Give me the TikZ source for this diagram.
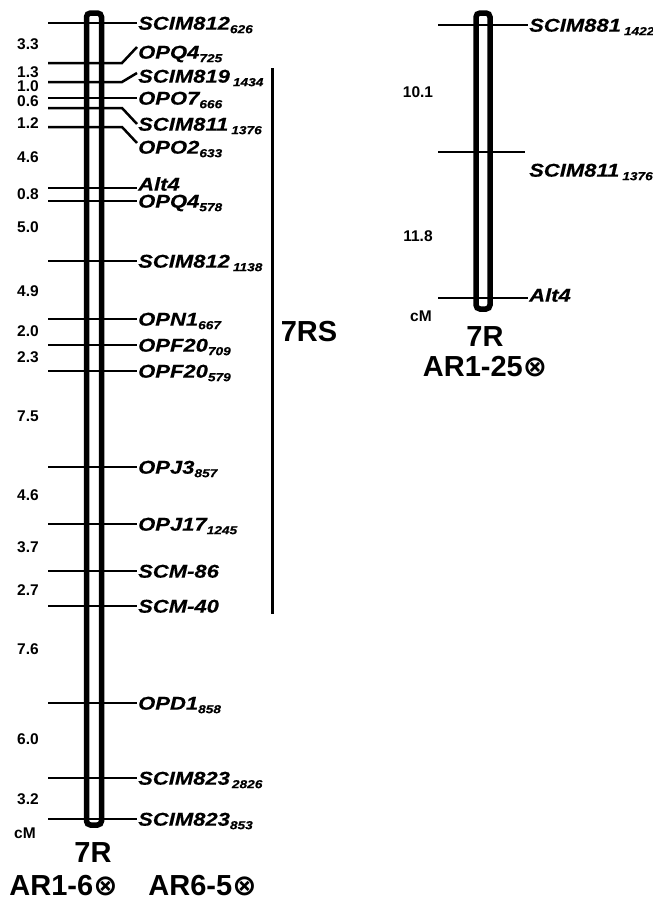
\documentclass[tikz,border=0pt]{standalone}
\usepackage{fontspec}
\setmainfont{Liberation Sans}
\newfontfamily\mkfont[FakeStretch=1.19, FakeBold=0.4]{Liberation Sans}
\newfontfamily\symf{DejaVu Sans}
\usepackage{tikz}

% markørnavn med lengde som senket indeks
\newcommand{\mkr}[2]{{\mkfont\bfseries\itshape\fontsize{18.5}{20}\selectfont #1\raisebox{-3.5pt}{\fontsize{11.5}{12}\selectfont #2}}}

\begin{document}
\begin{tikzpicture}[x=1pt, y=-1pt,
  lab/.style={anchor=west, inner xsep=1pt, inner ysep=0pt, text height=13.3pt, text depth=0pt},
  dist/.style={font=\bfseries\fontsize{15.5}{17}\selectfont, inner sep=0pt},
  big/.style={font=\bfseries\fontsize{29}{32}\selectfont, inner sep=0pt},
  tick/.style={line width=2.5pt},
  chrom/.style={line width=5.5pt, rounded corners=4pt}]
  \useasboundingbox (0,0) rectangle (653,902);
  % Kromosom AR1-6 / AR6-5
  \draw[chrom] (86.5,13) rectangle (101.5,825);
  \node[lab] (s1) at (137,23) {\mkr{SCIM812}{626}};
  \draw[tick] (48,23) coordinate (t1) -- (s1.west);
  \node[lab] (s2) at (137,52) {\mkr{OPQ4}{725}};
  \draw[tick] (48,63) coordinate (t2) -- (122,63) -- ([yshift=5pt]s2.west);
  \node[lab] (s3) at (137,76) {\mkr{SCIM819}{\hspace{3pt}1434}};
  \draw[tick] (48,82) coordinate (t3) -- (122,82) -- ([yshift=3pt]s3.west);
  \node[lab] (s4) at (137,98) {\mkr{OPO7}{666}};
  \draw[tick] (48,98) coordinate (t4) -- (s4.west);
  \node[lab] (s5) at (137,124) {\mkr{SCIM811}{\hspace{3pt}1376}};
  \draw[tick] (48,108) coordinate (t5) -- (122,108) -- (s5.west);
  \node[lab] (s6) at (137,147) {\mkr{OPO2}{633}};
  \draw[tick] (48,127) coordinate (t6) -- (122,127) -- ([yshift=4pt]s6.west);
  \node[lab] (s7) at (137,184) {\mkr{Alt4}{}};
  \draw[tick] (48,188) coordinate (t7) -- ([yshift=-4pt]s7.west);
  \node[lab] (s8) at (137,201) {\mkr{OPQ4}{578}};
  \draw[tick] (48,201) coordinate (t8) -- (s8.west);
  \node[lab] (s9) at (137,261) {\mkr{SCIM812}{\hspace{3pt}1138}};
  \draw[tick] (48,261) coordinate (t9) -- (s9.west);
  \node[lab] (s10) at (137,319) {\mkr{OPN1}{667}};
  \draw[tick] (48,319) coordinate (t10) -- (s10.west);
  \node[lab] (s11) at (137,345) {\mkr{OPF20}{709}};
  \draw[tick] (48,345) coordinate (t11) -- (s11.west);
  \node[lab] (s12) at (137,371) {\mkr{OPF20}{579}};
  \draw[tick] (48,371) coordinate (t12) -- (s12.west);
  \node[lab] (s13) at (137,467) {\mkr{OPJ3}{857}};
  \draw[tick] (48,467) coordinate (t13) -- (s13.west);
  \node[lab] (s14) at (137,524) {\mkr{OPJ17}{1245}};
  \draw[tick] (48,524) coordinate (t14) -- (s14.west);
  \node[lab] (s15) at (137,571) {\mkr{SCM-86}{}};
  \draw[tick] (48,571) coordinate (t15) -- (s15.west);
  \node[lab] (s16) at (137,606) {\mkr{SCM-40}{}};
  \draw[tick] (48,606) coordinate (t16) -- (s16.west);
  \node[lab] (s17) at (137,703) {\mkr{OPD1}{858}};
  \draw[tick] (48,703) coordinate (t17) -- (s17.west);
  \node[lab] (s18) at (137,778) {\mkr{SCIM823}{\hspace{2pt}2826}};
  \draw[tick] (48,778) coordinate (t18) -- (s18.west);
  \node[lab] (s19) at (137,819) {\mkr{SCIM823}{853}};
  \draw[tick] (48,819) coordinate (t19) -- (s19.west);
  % Avstander (cM)
  \node[dist] (d1) at (28,44.5) {3.3};
  \node[dist] (d2) at (28,72) {1.3};
  \node[dist] (d3) at (28,86) {1.0};
  \node[dist] (d4) at (28,101) {0.6};
  \node[dist] (d5) at (28,123) {1.2};
  \node[dist] (d6) at (28,157.5) {4.6};
  \node[dist] (d7) at (28,194) {0.8};
  \node[dist] (d8) at (28,227.5) {5.0};
  \node[dist] (d9) at (28,291) {4.9};
  \node[dist] (d10) at (28,331) {2.0};
  \node[dist] (d11) at (28,357.5) {2.3};
  \node[dist] (d12) at (28,416) {7.5};
  \node[dist] (d13) at (28,495) {4.6};
  \node[dist] (d14) at (28,547.5) {3.7};
  \node[dist] (d15) at (28,590) {2.7};
  \node[dist] (d16) at (28,649) {7.6};
  \node[dist] (d17) at (28,739) {6.0};
  \node[dist] (d18) at (28,799) {3.2};
  \node[dist] (cm1) at (25,833) {cM};
  % 7RS-arm
  \draw[line width=3pt] (272,68) coordinate (rsa) -- (272,614) coordinate (rsb);
  \node[big] (rs) at (309,332) {7RS};
  \node[big] (c1) at (93,853) {7R};
  \node[big] (g1) at (63.5,886) {AR1-6{\symf ⊗}};
  \node[big] (g2) at (202.5,886) {AR6-5{\symf ⊗}};
  % Kromosom AR1-25
  \draw[chrom] (476,13) rectangle (490,309);
  \node[lab] (q1) at (528,25) {\mkr{SCIM881}{\hspace{3pt}1422}};
  \draw[tick] (438,25) coordinate (r1) -- (q1.west);
  \node[lab] (q2) at (528,170) {\mkr{SCIM811}{\hspace{3pt}1376}};
  \draw[tick] (438,152) coordinate (r2) -- (525,152) coordinate (r2e);
  \node[lab] (q3) at (528,295) {\mkr{Alt4}{}};
  \draw[tick] (438,298) coordinate (r3) -- ([yshift=-3pt]q3.west);
  \node[dist] (e1) at (418,92) {10.1};
  \node[dist] (e2) at (418,236) {11.8};
  \node[dist] (cm2) at (421,316) {cM};
  \node[big] (c2) at (485,337) {7R};
  \node[big] (g3) at (485,367) {AR1-25{\symf ⊗}};
\end{tikzpicture}
\end{document}
